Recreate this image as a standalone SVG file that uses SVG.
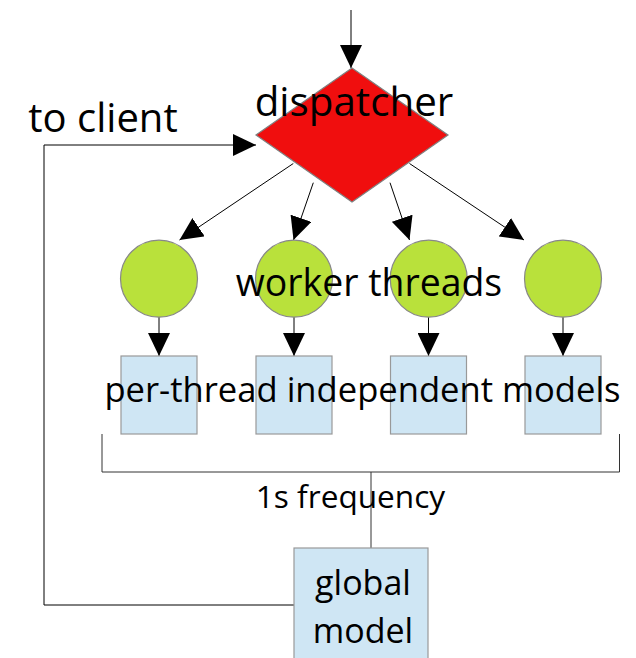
<svg xmlns="http://www.w3.org/2000/svg" width="636" height="658" viewBox="0 0 636 658">
<defs>
<marker id="ah" markerUnits="userSpaceOnUse" markerWidth="23" markerHeight="22" refX="23" refY="11" orient="auto" viewBox="0 0 23 22">
<path d="M0,0 L23,11 L0,22 z" fill="#000"/>
</marker>
<style>
.lbl{font-family:"Open Sans","Noto Sans","Liberation Sans",sans-serif;fill:#000;}
.conn{stroke:#000;stroke-width:1;fill:none;}
.arr{marker-end:url(#ah);}
.box{fill:#cfe6f4;stroke:#999;stroke-width:1.2;}
.wk{fill:#b9e13b;stroke:#888;stroke-width:1.2;}
</style>
</defs>
<rect width="636" height="658" fill="#fff"/>
<g id="connectors">
<line class="conn arr" x1="351" y1="10" x2="351" y2="68"/>
<polyline class="conn arr" points="294,605 44,605 44,145 256,145"/>
<line class="conn arr" x1="293.3" y1="163.5" x2="179.5" y2="240"/>
<line class="conn arr" x1="313.3" y1="182.7" x2="293.5" y2="240"/>
<line class="conn arr" x1="390" y1="182.7" x2="409.5" y2="240"/>
<line class="conn arr" x1="409.5" y1="163.5" x2="524" y2="240"/>
<line class="conn arr" x1="159" y1="317" x2="159" y2="356"/>
<line class="conn arr" x1="294" y1="317" x2="294" y2="356"/>
<line class="conn arr" x1="428.5" y1="317" x2="428.5" y2="356"/>
<line class="conn arr" x1="563" y1="317" x2="563" y2="356"/>
<polyline class="conn" style="stroke:#333" points="102,434 102,472 619.5,472 619.5,434"/>
<line class="conn" style="stroke:#333" x1="371" y1="472" x2="371" y2="548"/>
</g>
<g id="dispatcher">
<polygon points="352,68 448,135 352,202 256,135" fill="#f00e0e" stroke="#808080" stroke-width="1.2"/>
<text class="lbl" font-size="40.3" x="354" y="116" text-anchor="middle">dispatcher</text>
</g>
<g id="to-client">
<text class="lbl" font-size="40" x="103" y="132" text-anchor="middle">to client</text>
</g>
<g id="worker1"><circle class="wk" cx="159" cy="278.7" r="38.5"/></g>
<g id="worker2"><circle class="wk" cx="294" cy="278.7" r="38.5"/></g>
<g id="worker3"><circle class="wk" cx="428.7" cy="278.7" r="38.5"/></g>
<g id="worker4"><circle class="wk" cx="563" cy="278.7" r="38.5"/></g>
<g id="worker-label"><text class="lbl" font-size="37.4" x="369" y="295.5" text-anchor="middle">worker threads</text></g>
<g id="model1"><rect class="box" x="121" y="356" width="76" height="78"/></g>
<g id="model2"><rect class="box" x="256" y="356" width="76" height="78"/></g>
<g id="model3"><rect class="box" x="390.5" y="356" width="76" height="78"/></g>
<g id="model4"><rect class="box" x="525" y="356" width="76" height="78"/></g>
<g id="models-label"><text class="lbl" font-size="34.6" x="362.5" y="402" text-anchor="middle">per-thread independent models</text></g>
<g id="freq-label"><text class="lbl" font-size="31.6" x="350.5" y="508" text-anchor="middle">1s frequency</text></g>
<g id="global-model">
<rect class="box" x="294" y="548" width="134" height="120"/>
<text class="lbl" font-size="34" x="363" y="595" text-anchor="middle">global</text>
<text class="lbl" font-size="34" x="363" y="643" text-anchor="middle">model</text>
</g>
</svg>
